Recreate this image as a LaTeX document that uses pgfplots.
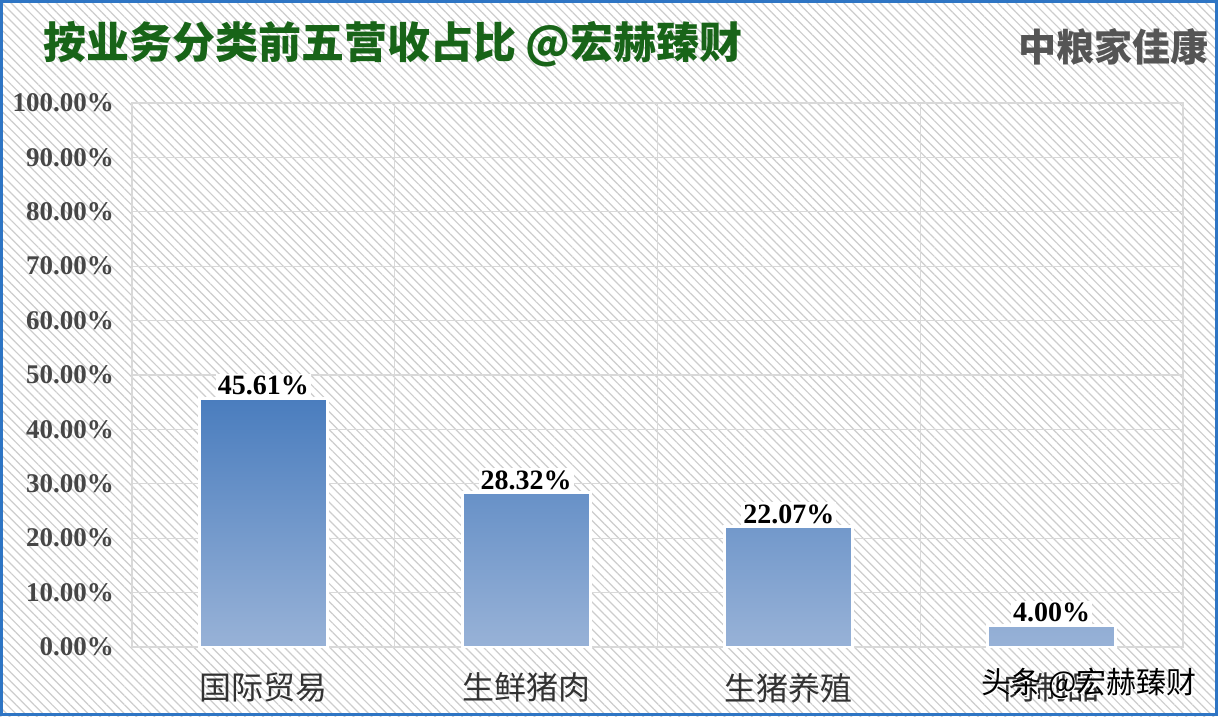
\documentclass[border=0pt]{standalone}
\usepackage{fontspec}
\setmainfont{Liberation Serif}
\newfontfamily\cjk{Noto Sans CJK SC}
\usepackage{pgfplots}
\pgfplotsset{compat=1.18}
\usetikzlibrary{patterns.meta}
\definecolor{frameblue}{RGB}{46,117,196}
\definecolor{titlegreen}{RGB}{24,100,24}
\definecolor{bartop}{RGB}{74,125,190}
\definecolor{barbot}{RGB}{152,178,215}
\definecolor{hatch}{RGB}{205,205,205}
\definecolor{gridc}{RGB}{217,217,217}
\definecolor{ticktext}{RGB}{70,70,70}
\definecolor{cattext}{RGB}{50,50,50}
\definecolor{brand}{RGB}{85,85,85}
\begin{document}
\begin{tikzpicture}
\useasboundingbox (0,0) rectangle (609pt,-358pt);
\fill[white] (0,0) rectangle (609pt,-358pt);
\fill[pattern={Lines[angle=-45,distance=3.2pt,line width=0.6pt]},pattern color=hatch] (0,0) rectangle (609pt,-358pt);
\begin{axis}[
  at={(66pt,-323.5pt)}, anchor=south west,
  width=525.5pt, height=272pt, scale only axis,
  xmin=0.5, xmax=4.5, ymin=0, ymax=100,
  xtick={1,2,3,4}, xticklabels={国际贸易,生鲜猪肉,生猪养殖,肉制品},
  minor xtick={1.5,2.5,3.5}, xminorgrids,
  ytick={0,10,...,100}, ymajorgrids,
  grid style={gridc, line width=0.6pt},
  minor grid style={gridc, line width=0.6pt},
  axis line style={gridc, line width=0.6pt},
  major tick length=0pt, minor tick length=0pt,
  /pgf/number format/assume math mode=true,
  yticklabel={\pgfmathprintnumber[fixed,fixed zerofill,precision=2]{\tick}\%},
  yticklabel style={font=\fontsize{13.5}{15}\selectfont\bfseries, text=ticktext, xshift=-5.5pt},
  xticklabel style={font=\cjk\fontsize{16}{18}\selectfont, text=cattext, yshift=-9.5pt},
  ybar, bar width=64pt,
  nodes near coords={\pgfmathprintnumber[fixed,fixed zerofill,precision=2]{\pgfplotspointmeta}\%},
  nodes near coords style={font=\fontsize{14}{16}\selectfont\bfseries, fill=white, inner sep=1pt, anchor=south, text=black},
]
\addplot[draw=white, line width=1.5pt, top color=bartop, bottom color=barbot] coordinates {(1,45.61) (2,28.32) (3,22.07) (4,4.00)};
\end{axis}
\node[anchor=west, font=\cjk\bfseries\fontsize{21.5}{24}\selectfont, text=titlegreen] at (18pt,-22pt) {按业务分类前五营收占比 @宏赫臻财};
\node[anchor=east, font=\cjk\bfseries\fontsize{19}{22}\selectfont, text=brand] at (608pt,-23.5pt) {中粮家佳康};
\node[anchor=west, font=\cjk\fontsize{15}{18}\selectfont, text=white] at (488pt,-342.2pt) {头条 @宏赫臻财};
\node[anchor=west, font=\cjk\fontsize{15}{18}\selectfont, text=black] at (487.3pt,-341.5pt) {头条 @宏赫臻财};
\draw[frameblue, line width=1.5pt] (0.75pt,-0.75pt) rectangle (608.25pt,-357.25pt);
\end{tikzpicture}
\end{document}
